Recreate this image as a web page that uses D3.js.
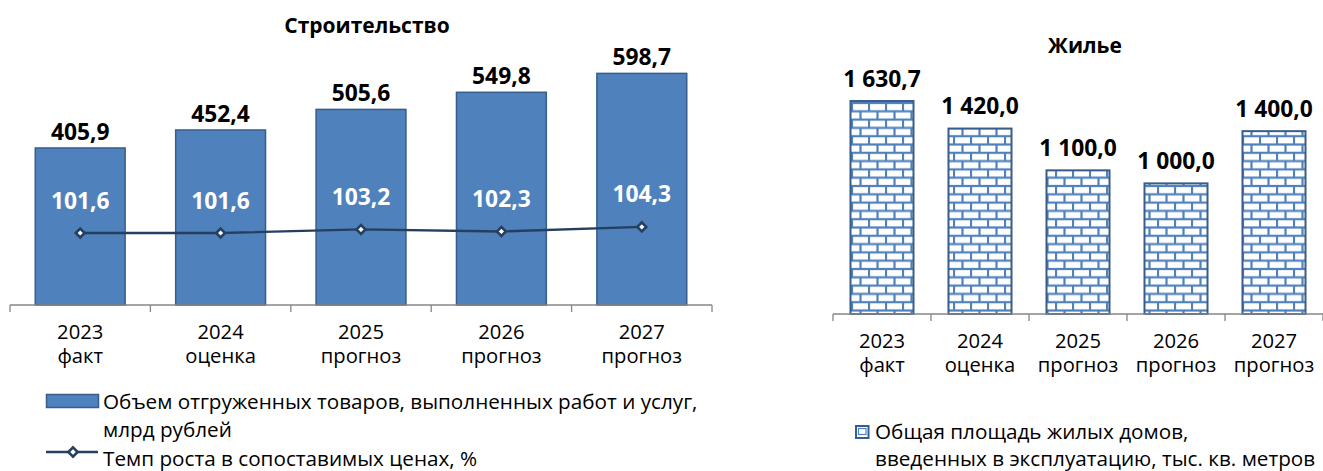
<!DOCTYPE html>
<html>
<head>
<meta charset="utf-8">
<script src="https://cdn.jsdelivr.net/npm/d3@7"></script>
<style>
  body { margin: 0; background: #fff; }
  svg { display: block; font-family: "Open Sans", "Noto Sans", sans-serif; }
</style>
</head>
<body>
<div id="chart"></div>
<script>
// ---------- data ----------
const years = ["2023", "2024", "2025", "2026", "2027"];
const kinds = ["факт", "оценка", "прогноз", "прогноз", "прогноз"];
const buildVolume = [405.9, 452.4, 505.6, 549.8, 598.7];
const buildGrowth = [101.6, 101.6, 103.2, 102.3, 104.3];
const housing = [1630.7, 1420.0, 1100.0, 1000.0, 1400.0];

const fmt = v => d3.format(",.1f")(v).replace(/,/g, " ").replace(".", ",");

const W = 1323, H = 471;
const svg = d3.select("#chart").append("svg")
    .attr("width", W).attr("height", H);

const blue = "#4F81BD", blueDark = "#385D8A", navy = "#243F60", axisGrey = "#868686";
const catFs = 20.2, legFs = 20.7, valFs = 22.8, titleFs = 21;

// brick pattern for the housing bars
const pat = svg.append("defs").append("pattern")
    .attr("id", "brick")
    .attr("patternUnits", "userSpaceOnUse")
    .attr("width", 17).attr("height", 16.6)
    .attr("x", 851).attr("y", 103);
pat.append("rect").attr("width", 17).attr("height", 16.6).attr("fill", "#fff");
[[0, 0, 17, 0], [0, 8.3, 17, 8.3], [0, 16.6, 17, 16.6],
 [1, 0, 1, 8.3], [9.5, 8.3, 9.5, 16.6]].forEach(l => {
    pat.append("line")
        .attr("x1", l[0]).attr("y1", l[1]).attr("x2", l[2]).attr("y2", l[3])
        .attr("stroke", blue).attr("stroke-width", 2.2);
});

function categoryAxis(g, x, y0) {
    g.append("line")
        .attr("x1", x.range()[0]).attr("x2", x.range()[1])
        .attr("y1", y0).attr("y2", y0)
        .attr("stroke", axisGrey).attr("stroke-width", 1.3);
    const ticks = years.map(c => x(c)).concat([x.range()[1]]);
    g.selectAll(".tick").data(ticks).join("line")
        .attr("x1", d => d).attr("x2", d => d)
        .attr("y1", y0).attr("y2", y0 + 7)
        .attr("stroke", axisGrey).attr("stroke-width", 1.3);
    const lab = g.selectAll(".cat").data(years).join("text")
        .attr("text-anchor", "middle")
        .attr("font-size", catFs)
        .attr("fill", "#000");
    lab.append("tspan")
        .attr("x", d => x(d) + x.bandwidth() / 2)
        .attr("y", y0 + 34)
        .text(d => d);
    lab.append("tspan")
        .attr("x", d => x(d) + x.bandwidth() / 2)
        .attr("y", y0 + 57.5)
        .text((d, i) => kinds[i]);
}

// ---------- left chart: construction ----------
const gL = svg.append("g");
const xL = d3.scaleBand().domain(years).range([10, 712]);
const yL = d3.scaleLinear().domain([0, 700]).range([305, 34.2]);
const y2L = d3.scaleLinear().domain([70, 189]).range([305, 34]);
const bwL = xL.bandwidth() * 0.64;

gL.append("text")
    .attr("x", 367).attr("y", 33)
    .attr("text-anchor", "middle")
    .attr("font-size", titleFs).attr("font-weight", "bold")
    .text("Строительство");

gL.selectAll(".bar").data(buildVolume).join("rect")
    .attr("x", (d, i) => xL(years[i]) + (xL.bandwidth() - bwL) / 2)
    .attr("y", d => yL(d))
    .attr("width", bwL)
    .attr("height", d => yL(0) - yL(d))
    .attr("fill", blue)
    .attr("stroke", blueDark).attr("stroke-width", 1.5);

gL.selectAll(".vlab").data(buildVolume).join("text")
    .attr("x", (d, i) => xL(years[i]) + xL.bandwidth() / 2)
    .attr("y", d => yL(d) - 8)
    .attr("text-anchor", "middle")
    .attr("font-size", valFs).attr("font-weight", "bold")
    .text(fmt);

categoryAxis(gL, xL, 305);

const lineL = d3.line()
    .x((d, i) => xL(years[i]) + xL.bandwidth() / 2)
    .y(d => y2L(d));
gL.append("path").datum(buildGrowth)
    .attr("d", lineL)
    .attr("fill", "none").attr("stroke", navy).attr("stroke-width", 2.4);
gL.selectAll(".mk").data(buildGrowth).join("path")
    .attr("transform", (d, i) => `translate(${xL(years[i]) + xL.bandwidth() / 2},${y2L(d)})`)
    .attr("d", d3.symbol(d3.symbolDiamond2, 50))
    .attr("fill", "#fff").attr("stroke", navy).attr("stroke-width", 2.6);
gL.selectAll(".glab").data(buildGrowth).join("text")
    .attr("x", (d, i) => xL(years[i]) + xL.bandwidth() / 2)
    .attr("y", d => y2L(d) - 24.5)
    .attr("text-anchor", "middle")
    .attr("font-size", valFs).attr("font-weight", "bold")
    .attr("fill", "#fff")
    .text(fmt);

// legend left
gL.append("rect")
    .attr("x", 46.5).attr("y", 394.5).attr("width", 52).attr("height", 13)
    .attr("fill", blue).attr("stroke", blueDark).attr("stroke-width", 1.5);
const legL = gL.append("text").attr("font-size", legFs);
legL.append("tspan").attr("x", 103).attr("y", 408.5)
    .text("Объем отгруженных товаров, выполненных работ и услуг,");
legL.append("tspan").attr("x", 103).attr("y", 437).text("млрд рублей");
gL.append("line")
    .attr("x1", 46).attr("x2", 98).attr("y1", 452).attr("y2", 452)
    .attr("stroke", navy).attr("stroke-width", 2.4);
gL.append("path")
    .attr("transform", "translate(73,452)")
    .attr("d", d3.symbol(d3.symbolDiamond2, 55))
    .attr("fill", "#fff").attr("stroke", navy).attr("stroke-width", 2.6);
gL.append("text").attr("font-size", legFs)
    .attr("x", 103).attr("y", 465.5)
    .text("Темп роста в сопоставимых ценах, %");

// ---------- right chart: housing ----------
const gR = svg.append("g");
const xR = d3.scaleBand().domain(years).range([833, 1323]);
const yR = d3.scaleLinear().domain([0, 2000]).range([314, 52.8]);
const bwR = xR.bandwidth() * 0.643;

gR.append("text")
    .attr("x", 1085).attr("y", 52.5)
    .attr("text-anchor", "middle")
    .attr("font-size", titleFs).attr("font-weight", "bold")
    .text("Жилье");

gR.selectAll(".bar").data(housing).join("rect")
    .attr("x", (d, i) => xR(years[i]) + (xR.bandwidth() - bwR) / 2)
    .attr("y", d => yR(d))
    .attr("width", bwR)
    .attr("height", d => yR(0) - yR(d))
    .attr("fill", "url(#brick)")
    .attr("stroke", blueDark).attr("stroke-width", 2);

gR.selectAll(".vlab").data(housing).join("text")
    .attr("x", (d, i) => xR(years[i]) + xR.bandwidth() / 2)
    .attr("y", d => yR(d) - 14.5)
    .attr("text-anchor", "middle")
    .attr("font-size", valFs).attr("font-weight", "bold")
    .text(fmt);

categoryAxis(gR, xR, 314);

// legend right
gR.append("rect")
    .attr("x", 856).attr("y", 426).attr("width", 12.5).attr("height", 12)
    .attr("fill", "#fff").attr("stroke", blueDark).attr("stroke-width", 2);
gR.append("rect")
    .attr("x", 858.5).attr("y", 428.5).attr("width", 7.5).attr("height", 6)
    .attr("fill", "none").attr("stroke", blue).attr("stroke-width", 1.2);
const legR = gR.append("text").attr("font-size", legFs);
legR.append("tspan").attr("x", 875).attr("y", 438.5).text("Общая площадь жилых домов,");
legR.append("tspan").attr("x", 875).attr("y", 466).text("введенных в эксплуатацию, тыс. кв. метров");
</script>
</body>
</html>
